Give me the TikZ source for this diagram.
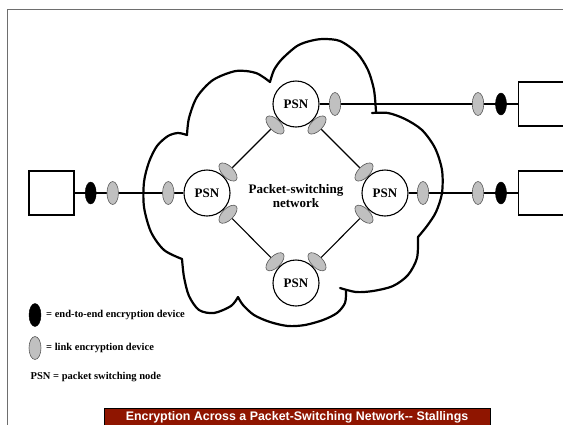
\documentclass[tikz,border=0pt]{standalone}
\usepackage{fontspec}
\setmainfont{Liberation Serif}
\newfontfamily\titlefont{Liberation Sans}
\usetikzlibrary{shapes.geometric,calc}
\definecolor{devgray}{RGB}{192,192,192}
\definecolor{devedge}{RGB}{90,90,90}
\definecolor{framegray}{RGB}{110,110,110}
\definecolor{titlered}{RGB}{143,21,0}
\begin{document}
\begin{tikzpicture}[x=1pt,y=-1pt,
  psn/.style={circle,draw,line width=1.1pt,fill=white,minimum size=46pt,inner sep=0pt,font=\fontsize{13}{14}\selectfont\bfseries},
  host/.style={rectangle,draw,line width=1.1pt,fill=white,minimum width=45pt,minimum height=44pt,inner sep=0pt},
  linkdev/.style={ellipse,draw=devedge,line width=0.6pt,fill=devgray,minimum width=11.5pt,minimum height=23pt,inner sep=0pt},
  endev/.style={ellipse,draw=black,fill=black,minimum width=11pt,minimum height=22pt,inner sep=0pt},
  trunk/.style={line width=1.7pt},
  diag/.style={line width=1.1pt},
  cloudline/.style={line width=2.2pt,line cap=round,line join=round},
  legend/.style={anchor=west,inner sep=0pt,font=\fontsize{10.5}{12}\selectfont\bfseries},
]
\useasboundingbox (0,0) rectangle (563,424);
\fill[white] (0,0) rectangle (563,424);
\draw[framegray,line width=1pt] (7,9) rectangle (620,480);

% cloud
\draw[cloudline] plot[smooth] coordinates {(187,135) (189,118) (197,97) (213,80) (236,71) (256,73) (270,82)};
\draw[cloudline] plot[smooth] coordinates {(270,82) (274,70) (282,59) (297,46) (310,41) (323,39) (340,41) (357,53) (368,70) (374,90) (376,112)};
\draw[cloudline] plot[smooth] coordinates {(372,113) (388,113) (405,119) (422,130) (435,148) (442,170) (442,193) (436,212) (427,226) (418,237)};
\draw[cloudline] plot[smooth] coordinates {(418,237) (417,258) (408,275) (393,286) (373,291) (356,292) (340,288)};
\draw[cloudline] plot[smooth] coordinates {(346,291) (345,303) (337,313) (323,320) (305,325) (288,326) (270,322) (254,315) (243,305) (238,297)};
\draw[cloudline] plot[smooth] coordinates {(238,297) (231,306) (214,313) (199,310) (189,296) (184,277) (182,259)};
\draw[cloudline] plot[smooth] coordinates {(182,259) (164,250) (151,232) (144,207) (144,182) (149,162) (157,146) (168,136) (178,133) (187,135)};

% nodes
\node[psn] (tpsn) at (296,104) {PSN};
\node[psn] (lpsn) at (207,193) {PSN};
\node[psn] (rpsn) at (385,193) {PSN};
\node[psn] (bpsn) at (296,283) {PSN};
\node[host] (lhost) at (51.5,193) {};
\node[host,anchor=west,minimum width=50pt] (rthost) at (518,104) {};
\node[host,anchor=west,minimum width=50pt] (rbhost) at (518,193) {};

% connectors
\draw[trunk] (lhost.east) -- (lpsn.west);
\draw[trunk] (tpsn.east) -- (rthost.west);
\draw[trunk] (rpsn.east) -- (rbhost.west);
\draw[diag] (tpsn) -- (lpsn);
\draw[diag] (tpsn) -- (rpsn);
\draw[diag] (bpsn) -- (lpsn);
\draw[diag] (bpsn) -- (rpsn);

% devices
\node[endev] (e1) at (90.7,193) {};
\node[linkdev] (k1) at (112.7,193) {};
\node[linkdev] (k2) at (168.3,193) {};
\node[linkdev] (k3) at (335,104) {};
\node[linkdev] (k4) at (478,104) {};
\node[endev] (e2) at (501,104) {};
\node[linkdev] (k5) at (423,193) {};
\node[linkdev] (k6) at (478,193) {};
\node[endev] (e3) at (501,193) {};
\node[linkdev,rotate=45] (d1) at ($(tpsn)!0.236!(lpsn)$) {};
\node[linkdev,rotate=45] (d2) at ($(lpsn)!0.236!(tpsn)$) {};
\node[linkdev,rotate=-45] (d3) at ($(tpsn)!0.236!(rpsn)$) {};
\node[linkdev,rotate=-45] (d4) at ($(rpsn)!0.236!(tpsn)$) {};
\node[linkdev,rotate=-45] (d5) at ($(lpsn)!0.236!(bpsn)$) {};
\node[linkdev,rotate=-45] (d6) at ($(bpsn)!0.236!(lpsn)$) {};
\node[linkdev,rotate=45] (d7) at ($(bpsn)!0.236!(rpsn)$) {};
\node[linkdev,rotate=45] (d8) at ($(rpsn)!0.236!(bpsn)$) {};

\node[font=\fontsize{13}{14}\selectfont\bfseries,align=center,inner sep=0pt] (pstext) at (296,196) {Packet-switching\\network};

% legend
\node[endev,minimum width=12pt,minimum height=23pt] (lege) at (35,315) {};
\node[legend] (lt1) at (46,315) {= end-to-end encryption device};
\node[linkdev,minimum width=12pt,minimum height=23pt] (legk) at (35,348) {};
\node[legend] (lt2) at (46,348) {= link encryption device};
\node[legend] (lt3) at (30.5,377) {PSN = packet switching node};

% title
\node[draw=black,fill=titlered,anchor=north west,minimum width=386pt,minimum height=40pt,inner sep=0pt,line width=0.8pt] (tbox) at (104,408) {};
\node[anchor=base,text=white,inner sep=0pt,font=\titlefont\fontsize{12.4}{14}\selectfont\bfseries] (ttext) at (297,420.5) {Encryption Across a Packet-Switching Network-{}- Stallings};
\end{tikzpicture}
\end{document}
